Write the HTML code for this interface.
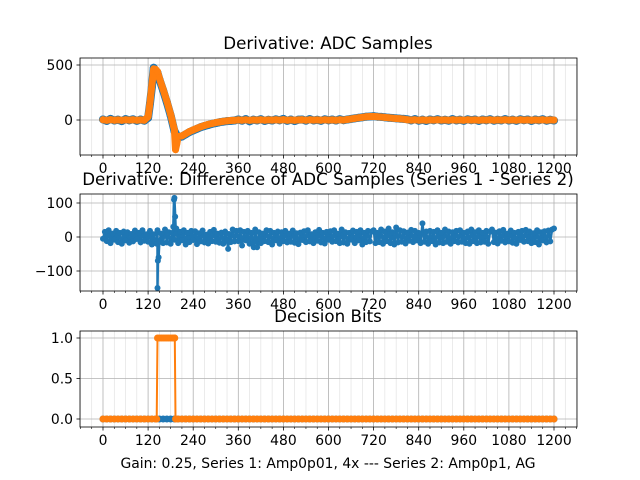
<!DOCTYPE html>
<html><head><meta charset="utf-8"><style>
body{margin:0;background:#fff}
svg{display:block;font-family:"DejaVu Sans","Liberation Sans",sans-serif}
</style></head><body>
<svg id="fig" width="640" height="480" viewBox="0 0 640 480"></svg>
<script>
const adcS1 = [5,-8,10,-5,3,-10,8,-3,6,-7,4,-6,
20,300,450,370,270,160,40,-100,-160,-150,-130,-110,-95,-80,-65,-55,-45,-35,-28,-20,-15,-10,-8,-5,
5,-6,8,-12,3,-4,7,-8,2,-5,6,-3,10,-7,4,-9,3,5,-6,8,-4,2,-7,6,-3,4,-5,7,-2,
5,10,15,20,25,30,32,35,30,28,25,20,18,15,12,10,
6,-4,8,-6,3,-8,5,-3,7,-5,2,-6,8,-4,3,-7,6,-2,4,-8,5,-3,7,-6,2,-4,8,-5,3,-7,6,-2,5,-8,4,-3,7,-6,2,-5];
const adcS1ExtraX = [125,135,145];
const adcS1ExtraY = [150,475,430];
const adcS2 = [2,-3,3,-2,1,-3,2,-1,2,-2,1,-2,
30,320,460,380,280,170,50,-90,-150,-145,-125,-105,-90,-75,-62,-50,-40,-32,-24,-18,-12,-8,-5,-3,
1,-2,2,-3,1,-1,2,-2,1,-1,2,-1,3,-2,1,-2,1,2,-2,2,-1,1,-2,2,-1,1,-2,2,-1,
5,10,15,20,25,30,32,33,30,27,24,20,17,14,11,8,
2,-1,2,-2,1,-2,1,-1,2,-1,1,-2,2,-1,1,-2,2,-1,1,-2,1,-1,2,-2,1,-1,2,-1,1,-2,2,-1,1,-2,1,-1,2,-2,1,-1];
const adcS2ExtraX = [125,135,145,193,196];
const adcS2ExtraY = [160,465,440,-270,-220];
const diffS = [
-5,15,-12,20,-18,10,-8,18,-15,12,-20,16,-10,14,-17,9,-13,19,-6,12,-16,20,-11,8,
-14,18,-22,8,-14,20,-12,10,-18,22,-16,14,-20,12,-8,25,-18,15,-10,20,-22,12,-15,18,
-9,17,-21,11,-13,19,-16,7,-19,15,-12,21,-14,10,-17,13,-20,16,-11,9,-15,22,-13,18,
-12,20,-25,15,-10,18,-20,12,-16,22,-30,14,-18,10,-12,20,-15,18,-22,12,-10,16,-20,14,
-12,18,-16,10,-14,19,-17,11,-21,13,-9,17,-15,20,-13,8,-18,14,-11,21,-16,12,-19,15,
-8,17,-14,20,-12,10,-18,22,-16,14,-20,12,-8,19,-18,15,-10,20,-22,12,-15,18,-13,16,
20,-18,12,-15,22,-20,16,-12,25,-18,14,-22,28,-16,20,-14,17,-19,13,-11,21,-15,18,-10,
12,-18,40,-14,16,-20,18,-12,15,-22,20,-16,12,-18,22,-14,16,-20,14,-12,18,-16,20,-14,
12,-18,16,-20,22,-12,14,-18,20,-16,12,-14,18,-20,16,22,-15,13,-19,17,-11,21,-16,10,
-13,19,-17,12,-20,15,-9,18,-14,21,-12,16,-18,11,-15,20,-22,14,-10,17,-16,19,-13,22,25];
const diffExtraX = [143,145,146,148,187,189,190,192,194,333,401];
const diffExtraY = [-20,-150,-70,-60,30,110,115,60,10,-35,-30];
const bitsS1 = new Array(121).fill(0);
const bitsS2 = [0,0,0,0,0,0,0,0,0,0,0,0,0,0,0,1,1,1,1,1].concat(new Array(101).fill(0));
const bitsS2ExtraX = [143,145,155,165,175,185,191,193];
const bitsS2ExtraY = [0,1,1,1,1,1,1,0];
const xTicks = [0,120,240,360,480,600,720,840,960,1080,1200];

const NS="http://www.w3.org/2000/svg";
const svg=document.getElementById('fig');
function el(t,a,p){const e=document.createElementNS(NS,t);for(const k in a)e.setAttribute(k,a[k]);(p||svg).appendChild(e);return e;}
const X0=80,X1=577;
const xs=v=>103+v*451/1200;
function series(vals,step,ex,ey){let pts=vals.map((v,i)=>[i*step,v]);if(ex)ex.forEach((x,i)=>pts.push([x,ey[i]]));pts.sort((a,b)=>a[0]-b[0]);return pts;}
function panel(name,top,bot,y0px,yv0,y1px,yv1,yticks,title,titleY){
  const ys=v=>y0px+(v-yv0)*(y1px-y0px)/(yv1-yv0);
  const g=el('g',{});
  
  
  for(let v=-60;v<=1260;v+=30){const x=xs(v);if(x<X0||x>X1)continue;const maj=v%120===0;
    el('line',{x1:x,x2:x,y1:top,y2:bot,stroke:maj?'#b0b0b0':'#dedede','stroke-width':maj?0.8:0.6},g);
    el('line',{x1:x,x2:x,y1:bot,y2:bot+(maj?3.5:2),stroke:'#000','stroke-width':maj?0.8:0.6},g);}
  xTicks.forEach(v=>{const t=el('text',{x:xs(v),y:bot+18,'text-anchor':'middle','font-size':13.9},g);t.textContent=v;});
  yticks.forEach(([v,l])=>{const y=ys(v);
    el('line',{x1:X0,x2:X1,y1:y,y2:y,stroke:'#b0b0b0','stroke-width':0.8},g);
    el('line',{x1:X0-3.5,x2:X0,y1:y,y2:y,stroke:'#000','stroke-width':0.8},g);
    const t=el('text',{x:X0-7,y:y+5,'text-anchor':'end','font-size':13.9},g);t.textContent=l;});
  const tt=el('text',{x:328,y:titleY,'text-anchor':'middle','font-size':16.7},svg);tt.textContent=title;
  
  
  return {g,ys,top,bot};
}
function draw(p,pts,color,nm,r,lw){
  const d=pts.map((q,i)=>(i?'L':'M')+xs(q[0]).toFixed(1)+','+p.ys(q[1]).toFixed(1)).join('');
  const path=el('path',{d:d,fill:'none',stroke:color,'stroke-width':lw,'stroke-linejoin':'round','stroke-linecap':'round'},p.g);
  
  
  pts.forEach(q=>{const c=el('circle',{cx:xs(q[0]),cy:p.ys(q[1]),r:r,fill:color},p.g);
    
    });
}
function frame(p){el('rect',{x:X0,y:p.top,width:X1-X0,height:p.bot-p.top,fill:'none',stroke:'#000','stroke-width':0.8},p.g);}

const p1=panel('adc-samples-panel',58,155,120,0,65,500,[[500,'500'],[0,'0']],'Derivative: ADC Samples',49);
draw(p1,series(adcS1,10,adcS1ExtraX,adcS1ExtraY),'#1f77b4','adc-series-1',4,8);
draw(p1,series(adcS2,10,adcS2ExtraX,adcS2ExtraY),'#ff7f0e','adc-series-2',3.5,7);
frame(p1);
const p2=panel('difference-panel',194,291,237,0,203,100,[[100,'100'],[0,'0'],[-100,'\u2212100']],'Derivative: Difference of ADC Samples (Series 1 - Series 2)',185);
draw(p2,series(diffS,5,diffExtraX,diffExtraY),'#1f77b4','difference-series',3,2.5);
frame(p2);
const p3=panel('decision-bits-panel',331,427,419,0,338,1,[[1,'1.0'],[0.5,'0.5'],[0,'0.0']],'Decision Bits',322);
draw(p3,series(bitsS1,10),'#1f77b4','bits-series-1',3.5,5);
draw(p3,series(bitsS2,10,bitsS2ExtraX,bitsS2ExtraY),'#ff7f0e','bits-series-2',3.5,2);
frame(p3);
const xl=el('text',{x:328,y:468,'text-anchor':'middle','font-size':13.9});
xl.textContent='Gain: 0.25, Series 1: Amp0p01, 4x --- Series 2: Amp0p1, AG';


</script>
</body></html>
